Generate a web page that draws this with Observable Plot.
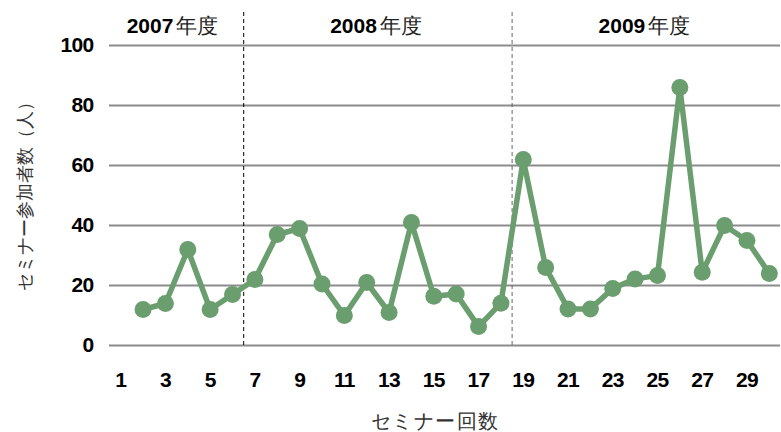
<!DOCTYPE html>
<html><head><meta charset="utf-8">
<script src="https://cdn.jsdelivr.net/npm/d3@7"></script>
<script src="https://cdn.jsdelivr.net/npm/@observablehq/plot@0.6"></script>
<style>
body{margin:0;background:#fff;}
svg text{font-family:"Liberation Sans",Arial,sans-serif;}
</style>
</head><body><div id="chart"></div>
<script>
const sessions = [2,3,4,5,6,7,8,9,10,11,12,13,14,15,16,17,18,19,20,21,22,23,24,25,26,27,28,29,30];
const attendees = [12,14,32,12,17,22,37,39,20.5,10,21,11,41,16.4,17.2,6.3,14.1,62,26,12.2,12.2,19,22.2,23.3,86,24.4,40,35,24];
const xTicks = [1,3,5,7,9,11,13,15,17,19,21,23,25,27,29];
const yTicks = [0,20,40,60,80,100];
const yearBreaks = [6.5,18.5];
const yearNames = ["2007","2008","2009"];
const yearCenters = [3.4,12.5,24.5];
const yLabel = "セミナー参加者数（人）";
const xLabel = "セミナー回数";

const data = sessions.map((s,i)=>({x:s,y:attendees[i]}));
const years = yearNames.map((n,i)=>({x:yearCenters[i],name:n}));
const cjk = "'Noto Sans CJK JP','Noto Sans',sans-serif";
const green = "#6b9e6e";

const plot = Plot.plot({
  width:781, height:432,
  marginLeft:109, marginRight:1, marginTop:45, marginBottom:87,
  x:{domain:[0.5,30.5], ticks:xTicks, tickFormat:d=>String(d)},
  y:{domain:[0,100], ticks:yTicks},
  marks:[
    Plot.gridY(yTicks,{stroke:"#8c8c8c", strokeOpacity:1, strokeWidth:2.2}),
    Plot.ruleX(yearBreaks,{y1:0, y2:111, stroke:(d,i)=>i===0?"#000":"#666", strokeWidth:1, strokeDasharray:"4,3"}),
    Plot.axisY(yTicks,{tickSize:0, tickPadding:16, fontSize:21, fontWeight:"bold", label:null, fill:"#000"}),
    Plot.axisX(xTicks,{tickSize:0, tickPadding:27, fontSize:21, fontWeight:"bold", label:null, fill:"#000"}),
    Plot.line(data,{x:"x", y:"y", stroke:green, strokeWidth:5.5, strokeLinejoin:"round"}),
    Plot.dot(data,{x:"x", y:"y", r:8.5, fill:green, stroke:"none"}),
    Plot.text(years,{x:"x", y:106.5, text:"name", textAnchor:"end", fontSize:21, fontWeight:"bold", fill:"#000", dx:-1}),
    Plot.text(years,{x:"x", y:106.5, text:()=>"年度", textAnchor:"start", fontSize:21, fontFamily:cjk, fontWeight:300, fill:"#222", dx:2}),
    Plot.text([yLabel],{frameAnchor:"left", textAnchor:"middle", lineAnchor:"middle", dx:-84, dy:-3.5, rotate:-90, fontSize:18, fontFamily:cjk, fontWeight:300, fill:"#333"}),
    Plot.text([xLabel],{frameAnchor:"bottom", textAnchor:"middle", lineAnchor:"middle", dy:76, dx:-10, fontSize:20, fontFamily:cjk, fontWeight:300, fill:"#333"})
  ]
});
plot.querySelectorAll("g[aria-label='y-axis tick label'] text, g[aria-label='x-axis tick label'] text").forEach(t=>t.setAttribute("letter-spacing","-0.7"));
plot.querySelectorAll("g[aria-label='text'] text").forEach(t=>{ if(t.textContent===xLabel) t.setAttribute("letter-spacing","1.5"); });
document.getElementById("chart").appendChild(plot);
</script>
</body></html>
